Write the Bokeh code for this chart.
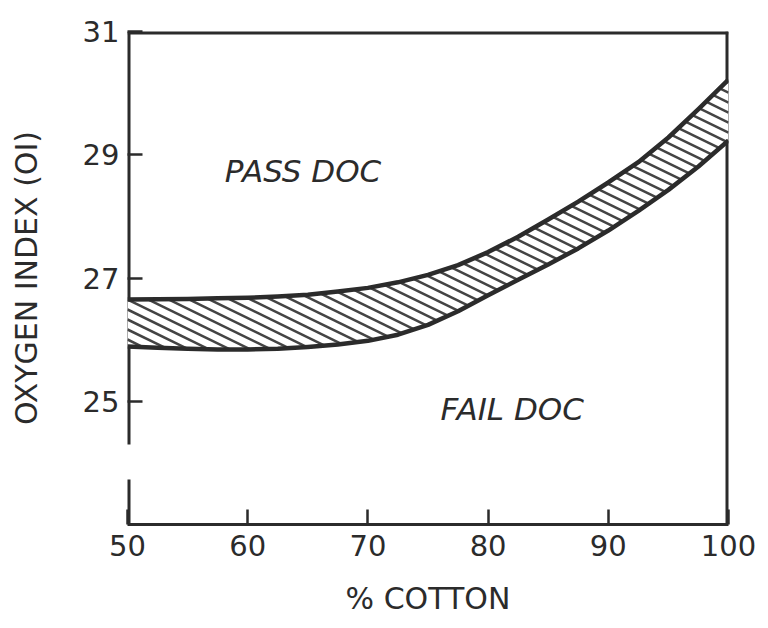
import numpy as np
from bokeh.plotting import figure
from bokeh.models import Range1d, FixedTicker
from bokeh.core.properties import value
from bokeh.embed import file_html
from bokeh.resources import INLINE

# ---- data ----
cotton = [50, 52.5, 55, 57.5, 60, 62.5, 65, 67.5, 70, 72.5, 75, 77.5,
          80, 82.5, 85, 87.5, 90, 92.5, 95, 97.5, 100]
oi_upper = [26.65, 26.655, 26.66, 26.67, 26.68, 26.70, 26.73, 26.78, 26.84, 26.93, 27.05, 27.21,
            27.42, 27.67, 27.95, 28.24, 28.55, 28.88, 29.28, 29.74, 30.22]
oi_lower = [25.89, 25.87, 25.85, 25.84, 25.84, 25.85, 25.88, 25.92, 25.98, 26.08, 26.24, 26.46,
            26.72, 26.97, 27.22, 27.48, 27.77, 28.09, 28.43, 28.81, 29.23]
x_ticks = [50, 60, 70, 80, 90, 100]
y_ticks = [25, 27, 29, 31]
region_labels = ["PASS DOC", "FAIL DOC"]
region_x = [64.6, 82.0]
region_y = [28.73, 24.88]
y_title = "OXYGEN INDEX (OI)"
x_title = "% COTTON"

INK = "#2b2b2b"
FONT = "DejaVu Sans"

X0, X1 = 50, 100
Y0, Y1 = 23, 31
W, H = 768, 628
ML, MR, MT, MB = 127, 40, 31, 104

p = figure(width=W, height=H, x_range=Range1d(X0, X1), y_range=Range1d(Y0, Y1),
           output_backend="svg", toolbar_location=None,
           min_border_left=ML, min_border_right=MR, min_border_top=MT, min_border_bottom=MB)
p.outline_line_color = None
p.grid.visible = False
p.background_fill_color = "white"
p.border_fill_color = "white"

# axes
xa = p.xaxis[0]
xa.ticker = FixedTicker(ticks=x_ticks)
xa.major_tick_in = 15
xa.major_tick_out = 0
xa.minor_tick_line_color = None
xa.major_tick_line_width = 2.5
xa.major_tick_line_color = INK
xa.axis_line_width = 3
xa.axis_line_color = INK
xa.major_label_text_font = FONT
xa.major_label_text_font_size = "29px"
xa.major_label_text_color = INK
xa.major_label_standoff = 10
xa.axis_label = x_title
xa.axis_label_text_font = FONT
xa.axis_label_text_font_size = "30px"
xa.axis_label_text_font_style = "normal"
xa.axis_label_text_color = INK
xa.axis_label_standoff = 22

ya = p.yaxis[0]
ya.ticker = FixedTicker(ticks=y_ticks)
ya.major_tick_in = 15
ya.major_tick_out = 0
ya.minor_tick_line_color = None
ya.major_tick_line_width = 2.5
ya.major_tick_line_color = INK
ya.axis_line_color = None
ya.major_label_text_font = FONT
ya.major_label_text_font_size = "29px"
ya.major_label_text_color = INK
ya.major_label_standoff = 8
ya.axis_label = y_title
ya.axis_label_text_font = FONT
ya.axis_label_text_font_size = "30px"
ya.axis_label_text_font_style = "normal"
ya.axis_label_text_color = INK
ya.axis_label_standoff = 36

# frame lines (left spine has a break near the bottom)
gap_lo, gap_hi = 23.73, 24.3
p.segment(x0=[X0, X0, X0, X1], y0=[gap_hi, Y0, Y1, Y1],
          x1=[X0, X0, X1, X1], y1=[Y1, gap_lo, Y1, Y0],
          line_width=6, line_color=INK)

# band fill
p.patch(cotton + cotton[::-1], oi_upper + oi_lower[::-1],
        fill_color="white", line_color=None)

# hatch lines computed between the two boundaries
fw = W - ML - MR
fh = H - MT - MB
px_x = fw / (X1 - X0)
px_y = fh / (Y1 - Y0)
xd = np.linspace(X0, X1, 3001)
up = np.interp(xd, cotton, oi_upper)
lo = np.interp(xd, cotton, oi_lower)
k = np.tan(np.radians(26)) * px_x / px_y
dc = 10.0 / px_y
hx0, hy0, hx1, hy1 = [], [], [], []
for c in np.arange(lo.min(), up.max() + k * (X1 - X0) + dc, dc):
    ln = c - k * (xd - X0)
    inside = (ln <= up) & (ln >= lo)
    if inside.any():
        xs = xd[inside]
        a, b = xs[0], xs[-1]
        hx0.append(a); hx1.append(b)
        hy0.append(c - k * (a - X0)); hy1.append(c - k * (b - X0))
p.segment(x0=hx0, y0=hy0, x1=hx1, y1=hy1, line_width=2.5, line_color="#444444")

# boundaries
p.line(cotton, oi_upper, line_width=4.5, line_color=INK, line_join="round")
p.line(cotton, oi_lower, line_width=4.5, line_color=INK, line_join="round")

# region labels
p.text(x=region_x, y=region_y, text=region_labels,
       text_font=value(FONT), text_font_size="31px", text_font_style="italic",
       text_align="center", text_baseline="middle", text_color=INK)

open("out.html", "w").write(file_html(p, INLINE))
